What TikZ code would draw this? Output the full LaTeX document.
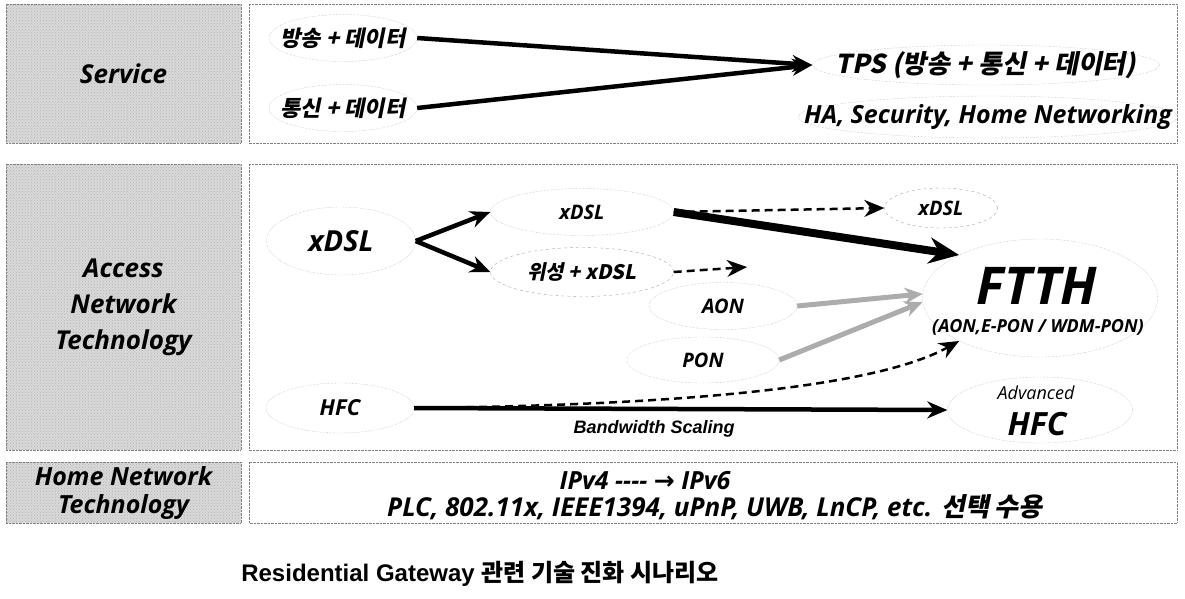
\documentclass[tikz,border=0pt]{standalone}
\usepackage{fontspec}
\setmainfont{Open Sans}
\newfontfamily\kr{Noto Sans CJK KR}[FakeSlant=0.2]
\newfontfamily\krup{Noto Sans CJK KR}
\newfontfamily\arl{Liberation Sans}
\newfontfamily\sym{DejaVu Sans}
\usetikzlibrary{shapes.geometric,arrows.meta,patterns}
\begin{document}
\begin{tikzpicture}[x=1pt,y=-1pt,line join=round,>={Stealth[length=20pt,width=17pt]},
lbl/.style={draw=gray,densely dotted,preaction={fill=gray!30},pattern=crosshatch dots,pattern color=gray!60,minimum width=235pt,align=center,font=\fontsize{26}{36}\selectfont\bfseries\itshape},
pane/.style={draw=gray,densely dotted},
oval/.style={ellipse,draw=gray!70,densely dotted,inner sep=0pt},
doval/.style={oval,dash pattern=on 3pt off 3pt},
lat/.style={font=\fontsize{#1}{#1}\selectfont\bfseries\itshape},
han/.style={font=\kr\bfseries\fontsize{#1}{#1}\selectfont},
fat/.style={->,line width=4.5pt},
fatter/.style={-{Stealth[length=30pt,width=26pt]},line width=8pt},
dsh/.style={->,dash pattern=on 8pt off 5pt,line width=2.5pt},
gry/.style={-{Stealth[length=18pt,width=16pt]},gray!65,line width=5pt}]
\useasboundingbox (0,0) rectangle (1185,598);
% left labels
\node[lbl,minimum height=139pt] (svc) at (123.5,73.5) {Service};
\node[lbl,minimum height=286pt] (acc) at (123.5,307) {Access\\Network\\Technology};
\node[lbl,minimum height=61pt,font=\fontsize{25}{28}\selectfont\bfseries\itshape] (home) at (123.5,492.5) {Home Network\\Technology};
\draw[pane] (249,4) rectangle (1177,143);
\draw[pane] (249,164) rectangle (1177,450);
\draw[pane] (249,462) rectangle (1177,523);
% service
\node[oval,minimum width=148pt,minimum height=47pt,label={[han=22]center:방송 + 데이터}] (bc) at (343,38) {};
\node[oval,minimum width=148pt,minimum height=47pt,label={[han=22]center:통신 + 데이터}] (tc) at (343,108) {};
\node[oval,minimum width=347pt,minimum height=40pt,label={[han=26]center:TPS (방송 + 통신 + 데이터)}] (tps) at (986,65) {};
\node[oval,minimum width=380pt,minimum height=42pt,label={[lat=25]center:HA, Security, Home Networking}] (ha) at (988,117) {};
\draw[fat] (bc.east) -- (tps.west);
\draw[fat] (tc.east) -- (tps.west);
% access
\node[oval,minimum width=149pt,minimum height=68pt,label={[lat=29]center:xDSL}] (bigx) at (341,241) {};
\node[oval,minimum width=183pt,minimum height=47pt,label={[lat=20]center:xDSL}] (x1) at (582,212) {};
\node[doval,minimum width=183pt,minimum height=49pt,label={[han=20]center:위성 + xDSL}] (sat) at (582,272) {};
\node[doval,minimum width=113pt,minimum height=40pt,label={[lat=20]center:xDSL}] (x2) at (941,208) {};
\node[oval,minimum width=148pt,minimum height=47pt,label={[lat=20]center:AON}] (aon) at (723,306) {};
\node[oval,minimum width=152pt,minimum height=46pt,label={[lat=20]center:PON}] (pon) at (703,360) {};
\node[oval,minimum width=235pt,minimum height=118pt] (ftth) at (1040,298) {};
\node[lat=52] (ftt) at (1037,286) {FTTH};
\node[lat=18] (ftsub) at (1038,327) {(AON,E-PON / WDM-PON)};
\node[oval,minimum width=148pt,minimum height=50pt,label={[lat=22]center:HFC}] (hfc) at (340,408) {};
\node[oval,minimum width=185pt,minimum height=66pt] (ahfc) at (1040,410) {};
\node[font=\fontsize{18}{18}\selectfont\itshape] (adv) at (1036,393) {Advanced};
\node[lat=32] (ahf) at (1037,424) {HFC};
\coordinate (satend) at (747,267);
\draw[fat] (bigx.east) -- (x1.west);
\draw[fat] (bigx.east) -- (sat.west);
\draw[dsh] (x1.east) -- (x2.west);
\draw[fatter] (x1.east) -- (ftth.152);
\draw[dsh] (sat.east) -- (satend);
\draw[gry] (aon.east) -- (ftth.178);
\draw[gry] (pon.east) -- (ftth.182);
\draw[dsh] (hfc.east) .. controls (700,405) and (880,385) .. (ftth.208);
\draw[fat] (hfc.east) -- (ahfc.west) node[pos=0.45,below=6pt,font=\arl\bfseries\itshape\fontsize{18}{18}\selectfont] (bw) {Bandwidth Scaling};
% home
\node[lat=25] (ip) at (645,481) {IPv4 -{}-{}-{}- {\sym\bfseries →} IPv6};
\node[lat=26] (std) at (715,507) {PLC, 802.11x, IEEE1394, uPnP, UWB, LnCP, etc. {\kr\bfseries 선택 수용}};
\node[font=\arl\bfseries\fontsize{24}{24}\selectfont] (cap) at (480,574) {Residential Gateway {\krup\bfseries 관련 기술 진화 시나리오}};
\end{tikzpicture}
\end{document}
